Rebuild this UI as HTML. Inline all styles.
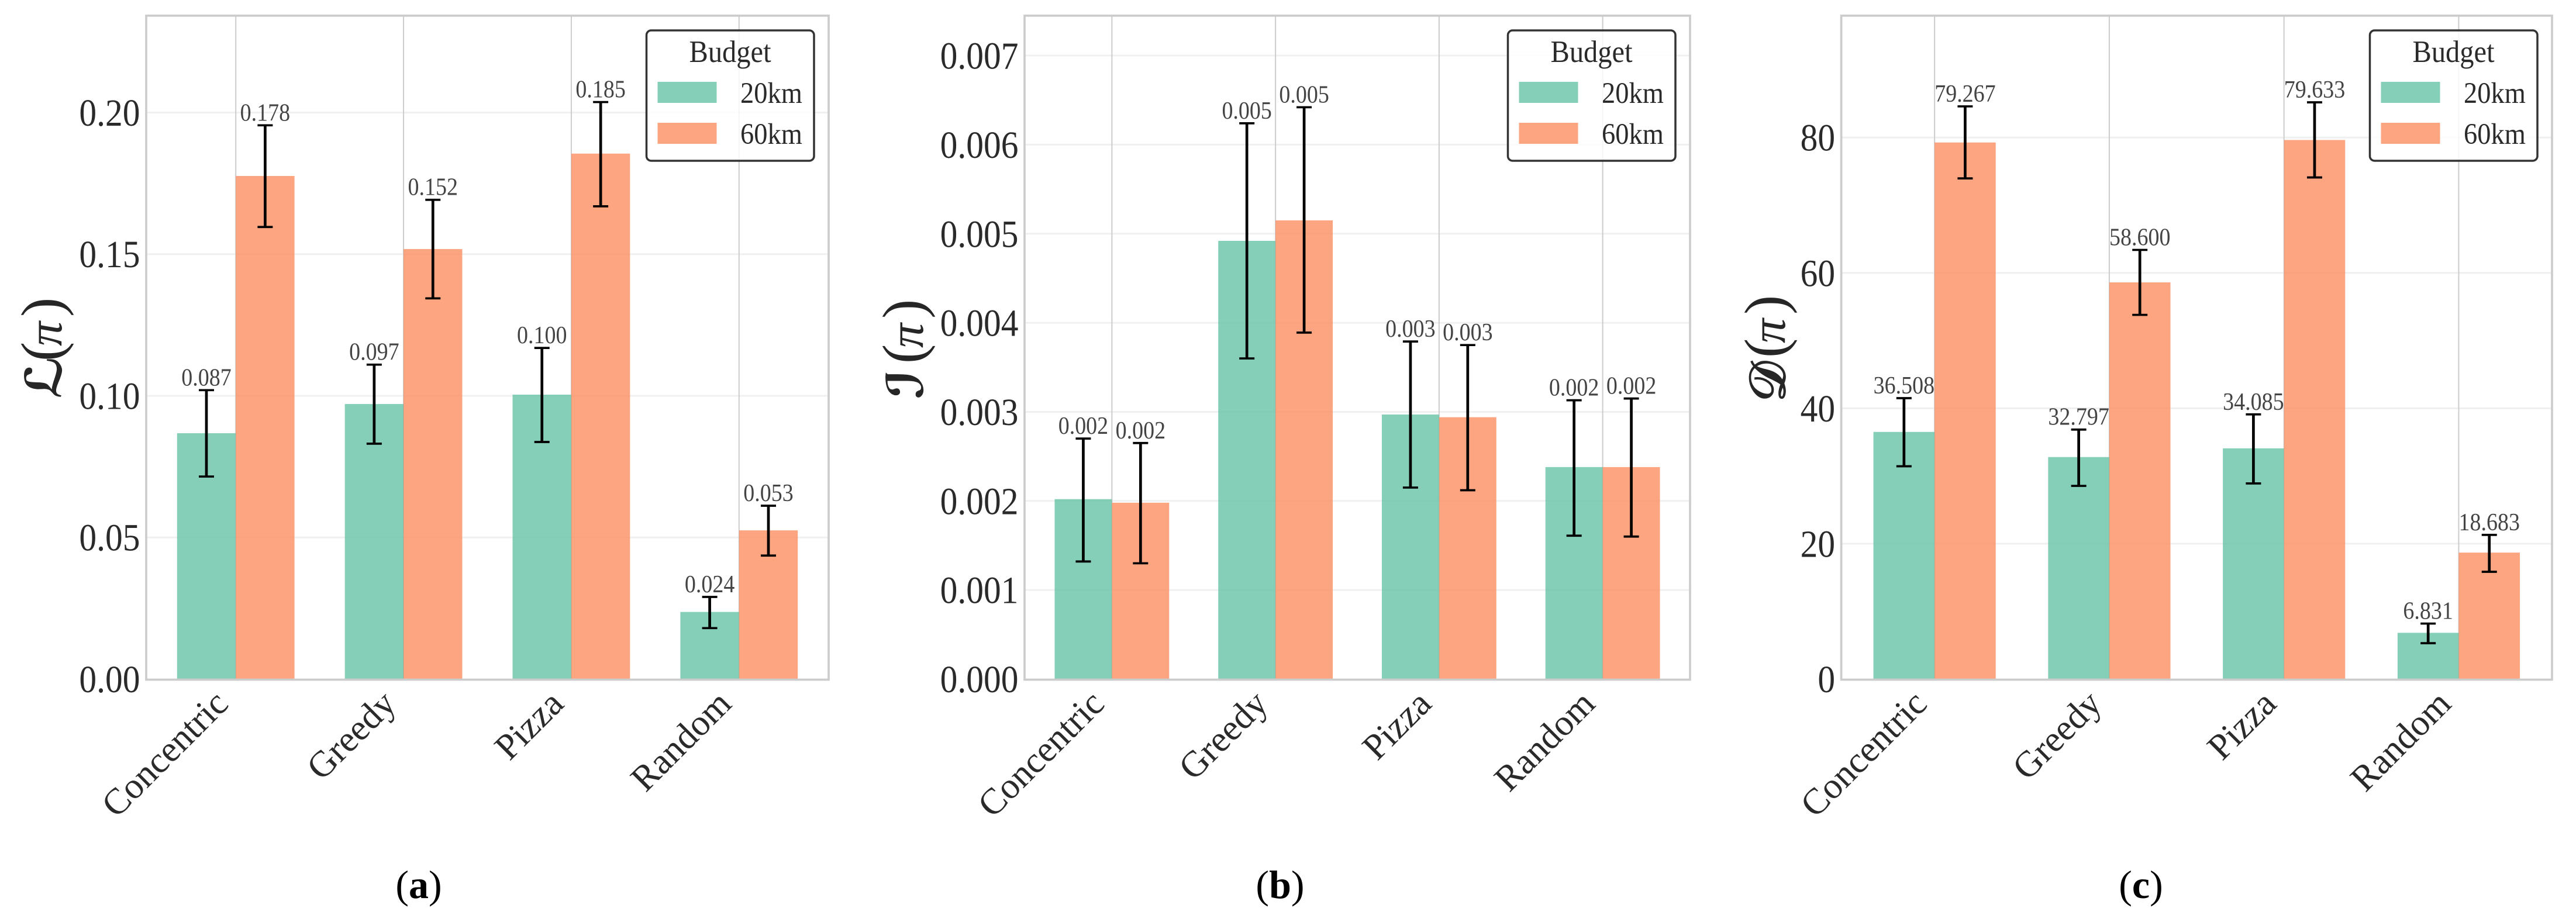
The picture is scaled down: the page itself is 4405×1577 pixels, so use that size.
<!DOCTYPE html>
<html lang="en">
<head>
<meta charset="utf-8">
<title>Budget comparison bar charts</title>
<style>
html,body{margin:0;padding:0;background:#fff;}
#figure{position:relative;width:4405px;height:1577px;overflow:hidden;background:#fff;}
svg{display:block;}
text{font-family:"Liberation Serif","DejaVu Serif",serif;}
</style>
</head>
<body>
<div id="figure">
<svg id="chart" xmlns="http://www.w3.org/2000/svg" width="4405" height="1577" viewBox="0 0 4405 1577">
<text x="716" y="1536" text-anchor="middle" font-size="68" fill="#000">(<tspan font-weight="bold">a</tspan>)</text>
<text x="2189" y="1536" text-anchor="middle" font-size="68" fill="#000">(<tspan font-weight="bold">b</tspan>)</text>
<text x="3661" y="1536" text-anchor="middle" font-size="68" fill="#000">(<tspan font-weight="bold">c</tspan>)</text>
</svg>
</div>
<script>
const categories = ["Concentric", "Greedy", "Pizza", "Random"];
const legendLabels = ["20km", "60km"];
const legendTitle = "Budget";

const lossTicks = [0, 0.05, 0.10, 0.15, 0.20];
const lossTickLabels = ["0.00", "0.05", "0.10", "0.15", "0.20"];
const loss20 = [0.0868, 0.0971, 0.1004, 0.0237];
const loss60 = [0.1776, 0.1518, 0.1855, 0.0525];
const loss20Low = [0.0715, 0.0831, 0.0837, 0.0180];
const loss20High = [0.1020, 0.1110, 0.1169, 0.0290];
const loss60Low = [0.1596, 0.1344, 0.1669, 0.0436];
const loss60High = [0.1955, 0.1692, 0.2037, 0.0612];
const loss20Printed = ["0.087", "0.097", "0.100", "0.024"];
const loss60Printed = ["0.178", "0.152", "0.185", "0.053"];

const infoTicks = [0, 0.001, 0.002, 0.003, 0.004, 0.005, 0.006, 0.007];
const infoTickLabels = ["0.000", "0.001", "0.002", "0.003", "0.004", "0.005", "0.006", "0.007"];
const info20 = [0.00202, 0.00492, 0.00297, 0.00238];
const info60 = [0.00198, 0.00515, 0.00294, 0.00238];
const info20Low = [0.00132, 0.00360, 0.00215, 0.00161];
const info20High = [0.00270, 0.00624, 0.00379, 0.00313];
const info60Low = [0.00130, 0.00389, 0.00212, 0.00160];
const info60High = [0.00265, 0.00642, 0.00375, 0.00315];
const info20Printed = ["0.002", "0.005", "0.003", "0.002"];
const info60Printed = ["0.002", "0.005", "0.003", "0.002"];

const distTicks = [0, 20, 40, 60, 80];
const distTickLabels = ["0", "20", "40", "60", "80"];
const dist20 = [36.508, 32.797, 34.085, 6.831];
const dist60 = [79.267, 58.600, 79.633, 18.683];
const dist20Low = [31.44, 28.54, 28.90, 5.30];
const dist20High = [41.50, 36.86, 39.10, 8.20];
const dist60Low = [73.96, 53.80, 74.10, 15.85];
const dist60High = [84.60, 63.40, 85.20, 21.30];
const dist20Printed = ["36.508", "32.797", "34.085", "6.831"];
const dist60Printed = ["79.267", "58.600", "79.633", "18.683"];

const SVG_NS = "http://www.w3.org/2000/svg";
const root = document.getElementById("chart");
const GREEN = "#66c2a5";
const ORANGE = "#fc8d62";
const X_MIN = -0.534, X_MAX = 3.534, BAR_W = 0.35;
const FRAME_TOP = 26.8, FRAME_BOTTOM = 1161.5;

function make(tag, attrs, parent) {
  const n = document.createElementNS(SVG_NS, tag);
  for (const k in attrs) n.setAttribute(k, attrs[k]);
  parent.appendChild(n);
  return n;
}

function drawPanel(p) {
  const g = make("g", {}, root);
  
  

  const xScale = v => p.left + (v - X_MIN) / (X_MAX - X_MIN) * (p.right - p.left);
  const yScale = v => FRAME_BOTTOM - v / p.yMax * (FRAME_BOTTOM - FRAME_TOP);

  p.ticks.forEach((t, i) => {
    const y = yScale(t);
    if (t !== 0) {
      const gl = make("line", {x1: p.left, x2: p.right, y1: y, y2: y, stroke: "#f0f0f0", "stroke-width": 3}, g);
      
      
    }
    const tl = make("text", {transform: `translate(${p.left - 10.5},${y + 22.5}) scale(1,1.1)`, "text-anchor": "end", "font-size": 59.5, fill: "#2a2a2a"}, g);
    tl.textContent = p.tickLabels[i];
    
    
  });

  categories.forEach((c, i) => {
    const x = xScale(i);
    const gl = make("line", {x1: x, x2: x, y1: FRAME_TOP, y2: FRAME_BOTTOM, stroke: "#cccccc", "stroke-width": 2}, g);
    
    
  });

  const series = [
    {name: "20km", color: GREEN, off: -BAR_W, vals: p.s20, lo: p.s20Low, hi: p.s20High, printed: p.s20Printed},
    {name: "60km", color: ORANGE, off: 0, vals: p.s60, lo: p.s60Low, hi: p.s60High, printed: p.s60Printed}
  ];

  series.forEach(s => {
    s.vals.forEach((v, i) => {
      const x0 = xScale(i + s.off), x1 = xScale(i + s.off + BAR_W);
      const y = yScale(v);
      const r = make("rect", {x: x0, y: y, width: x1 - x0, height: yScale(0) - y, fill: s.color, "fill-opacity": 0.8}, g);
      
      
    });
  });

  series.forEach(s => {
    s.vals.forEach((v, i) => {
      const cx = xScale(i + s.off + BAR_W / 2);
      const yHi = yScale(s.hi[i]), yLo = yScale(s.lo[i]);
      const eb = make("line", {x1: cx, x2: cx, y1: yHi, y2: yLo, stroke: "#000", "stroke-width": 4.7}, g);
      
      
      const c1 = make("line", {x1: cx - 13, x2: cx + 13, y1: yHi, y2: yHi, stroke: "#000", "stroke-width": 3.7}, g);
      
      
      const c2 = make("line", {x1: cx - 13, x2: cx + 13, y1: yLo, y2: yLo, stroke: "#000", "stroke-width": 3.7}, g);
      
      
      const lab = make("text", {transform: `translate(${cx},${yHi - 8}) scale(1,1.1)`, "text-anchor": "middle", "font-size": 38, fill: "#444"}, g);
      lab.textContent = s.printed[i];
      
      
    });
  });

  const frame = make("rect", {x: p.left, y: FRAME_TOP, width: p.right - p.left, height: FRAME_BOTTOM + 1 - FRAME_TOP, fill: "none", stroke: "#cccccc", "stroke-width": 3.7}, g);
  
  

  categories.forEach((c, i) => {
    const tx = make("text", {transform: `translate(${xScale(i) - 10},1207) rotate(-45)`, "text-anchor": "end", "font-size": 62.5, fill: "#2a2a2a"}, g);
    tx.textContent = c;
    
    
  });

  const yl = make("text", {transform: `translate(${p.ylabelX},${p.ylabelBottom}) rotate(-90)`, fill: "#262626"}, g);
  
  
  const ylA = make("tspan", {x: 0, "font-size": 86, "font-family": "'DejaVu Serif','DejaVu Sans',serif", "font-weight": "bold"}, yl);
  ylA.textContent = p.ylabelSym;
  const ylB = make("tspan", {x: p.openX, "font-size": 100}, yl);
  ylB.textContent = "(";
  const ylC = make("tspan", {x: p.piX, "font-size": 84, "font-style": "italic"}, yl);
  ylC.textContent = "π";
  const ylD = make("tspan", {x: p.closeX, "font-size": 100}, yl);
  ylD.textContent = ")";

  const lx = p.right - 25 - 286.5;
  const lg = make("g", {}, g);
  
  
  const box = make("rect", {x: lx, y: 52, width: 286.5, height: 223, rx: 8, ry: 8, fill: "#fff", "fill-opacity": 0.8, stroke: "#333", "stroke-width": 3.5}, lg);
  
  
  const lt = make("text", {transform: `translate(${lx + 143},106) scale(1,1.1)`, "text-anchor": "middle", "font-size": 48.5, fill: "#2a2a2a"}, lg);
  lt.textContent = legendTitle;
  
  
  legendLabels.forEach((name, i) => {
    const py = 140 + i * 70;
    const sw = make("rect", {x: lx + 19, y: py, width: 101, height: 36, fill: i === 0 ? GREEN : ORANGE, "fill-opacity": 0.8}, lg);
    
    
    const tt = make("text", {transform: `translate(${lx + 160.5},${py + 36}) scale(1,1.1)`, "font-size": 46.5, fill: "#2a2a2a"}, lg);
    tt.textContent = name;
    
    
  });
}

drawPanel({id: "a", left: 250, right: 1417, yMax: 0.2342, ticks: lossTicks, tickLabels: lossTickLabels,
  s20: loss20, s60: loss60, s20Low: loss20Low, s20High: loss20High, s60Low: loss60Low, s60High: loss60High,
  s20Printed: loss20Printed, s60Printed: loss60Printed, ylabelSym: "ℒ", ylabelX: 105, ylabelBottom: 682, openX: 64, piX: 90, closeX: 140});
drawPanel({id: "b", left: 1752, right: 2890, yMax: 0.007448, ticks: infoTicks, tickLabels: infoTickLabels,
  s20: info20, s60: info60, s20Low: info20Low, s20High: info20High, s60Low: info60Low, s60High: info60High,
  s20Printed: info20Printed, s60Printed: info60Printed, ylabelSym: "ℐ", ylabelX: 1578, ylabelBottom: 683, openX: 61, piX: 88, closeX: 138});
drawPanel({id: "c", left: 3148.6, right: 4364, yMax: 98.0, ticks: distTicks, tickLabels: distTickLabels,
  s20: dist20, s60: dist60, s20Low: dist20Low, s20High: dist20High, s60Low: dist60Low, s60High: dist60High,
  s20Printed: dist20Printed, s60Printed: dist60Printed, ylabelSym: "𝒟", ylabelX: 3052, ylabelBottom: 687, openX: 75, piX: 100, closeX: 149});
</script>
</body>
</html>
